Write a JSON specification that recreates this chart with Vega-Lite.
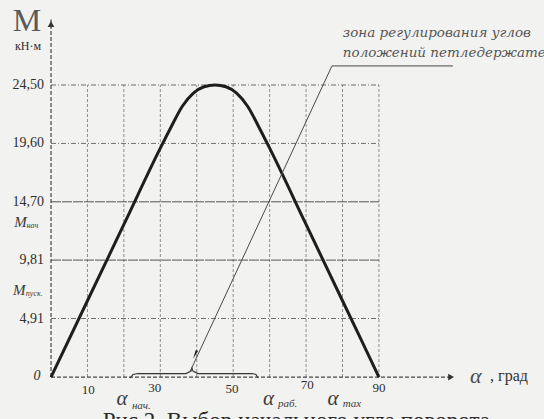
{
  "$schema": "https://vega.github.io/schema/vega-lite/v6.json",
  "width": 544,
  "height": 419,
  "autosize": "none",
  "padding": 0,
  "background": "#f2f2f0",
  "config": {"view": {"stroke": null}},
  "datasets": {
    "curve": [
      {"x": 0, "y": 0}, {"x": 10, "y": 6.4}, {"x": 20, "y": 12.8}, {"x": 30, "y": 19.2},
      {"x": 33, "y": 21.0}, {"x": 36, "y": 22.7}, {"x": 39, "y": 23.8}, {"x": 42, "y": 24.35},
      {"x": 45, "y": 24.5}, {"x": 48, "y": 24.35}, {"x": 51, "y": 23.8}, {"x": 54, "y": 22.7},
      {"x": 57, "y": 21.0}, {"x": 60, "y": 19.2}, {"x": 70, "y": 12.8}, {"x": 80, "y": 6.4},
      {"x": 90, "y": 0}
    ],
    "vgrid": [
      {"x": 10, "y": 0, "y2": 24.5}, {"x": 20, "y": 0, "y2": 24.5}, {"x": 30, "y": 0, "y2": 24.5},
      {"x": 40, "y": 0, "y2": 24.5}, {"x": 50, "y": 0, "y2": 24.5}, {"x": 60, "y": 0, "y2": 24.5},
      {"x": 70, "y": 0, "y2": 24.5}, {"x": 80, "y": 0, "y2": 24.5}, {"x": 90, "y": 0, "y2": 24.5}
    ],
    "hgridDash": [
      {"x": 0, "x2": 90, "y": 4.91}, {"x": 0, "x2": 90, "y": 19.6}, {"x": 0, "x2": 90, "y": 24.5}
    ],
    "hgridSolid": [
      {"x": 0, "x2": 90, "y": 9.81}, {"x": 0, "x2": 90, "y": 14.7}
    ],
    "axes": [
      {"x": 0, "y": 0, "x2": 0, "y2": 30.0},
      {"x": 0, "y": 0, "x2": 110, "y2": 0}
    ],
    "bracket": [
      {"x": 21.68, "y": -0.08}, {"x": 22.5, "y": 0.21}, {"x": 23.87, "y": 0.29},
      {"x": 37.05, "y": 0.29}, {"x": 38.42, "y": 0.5}, {"x": 38.69, "y": 0.76},
      {"x": 38.97, "y": 0.5}, {"x": 40.34, "y": 0.29}, {"x": 55.16, "y": 0.29},
      {"x": 56.26, "y": 0.21}, {"x": 56.81, "y": -0.08}
    ],
    "leader": [
      {"x": 38.1, "y": 0.42, "o": 1}, {"x": 77.1, "y": 26.1, "o": 2}, {"x": 110.3, "y": 26.1, "o": 3}
    ],
    "yArrow": [{"x": 0, "y": 29.6}],
    "xArrow": [{"x": 109.8, "y": 0}],
    "leaderArrow": [{"x": 39.7, "y": 2.0}],
    "yTicks": [
      {"x": -1.92, "y": 24.5, "t": "24,50"}, {"x": -1.92, "y": 19.6, "t": "19,60"},
      {"x": -1.92, "y": 14.7, "t": "14,70"}, {"x": -1.92, "y": 9.81, "t": "9,81"},
      {"x": -1.92, "y": 4.91, "t": "4,91"}
    ],
    "xTicks": [
      {"x": 10.2, "y": -1.09, "t": "10"}, {"x": 28.5, "y": -0.95, "t": "30"},
      {"x": 49.7, "y": -1.0, "t": "50"}, {"x": 70.3, "y": -0.7, "t": "70"},
      {"x": 90, "y": -0.95, "t": "90"}
    ],
    "zero": [{"x": -3.84, "y": 0.08, "t": "0"}],
    "bigM": [{"x": -6.6, "y": 29.9, "t": "M"}],
    "unit": [{"x": -6.3, "y": 27.8, "t": "кН·м"}],
    "mLabels": [
      {"x": -8.4, "y": 13.0, "t": "M"}, {"x": -8.7, "y": 7.3, "t": "M"}
    ],
    "mSubs": [
      {"x": -6.7, "y": 12.7, "t": "нач"}, {"x": -6.9, "y": 7.0, "t": "пуск."}
    ],
    "alphas": [
      {"x": 19.5, "y": -1.85, "t": "α"}, {"x": 59.7, "y": -1.85, "t": "α"}, {"x": 77.4, "y": -1.85, "t": "α"}
    ],
    "alphaSubs": [
      {"x": 22.2, "y": -2.4, "t": "нач."}, {"x": 62.3, "y": -2.25, "t": "раб."}, {"x": 80.1, "y": -2.25, "t": "max"}
    ],
    "zone": [
      {"x": 80.1, "y": 28.86, "t": "зона регулирования углов"},
      {"x": 80.1, "y": 27.19, "t": "положений петледержателя"}
    ],
    "axisAlpha": [{"x": 116.6, "y": 0.05, "t": "α"}],
    "axisUnit": [{"x": 120.5, "y": 0.05, "t": " ,  град"}],
    "caption": [{"x": 14.2, "y": -4.25, "t": "Рис.2. Выбор начального угла поворота"}]
  },
  "encoding": {
    "x": {"field": "x", "type": "quantitative", "scale": {"domain": [-14.0, 135.3], "nice": false, "zero": false}, "axis": null},
    "y": {"field": "y", "type": "quantitative", "scale": {"domain": [-3.52, 31.63], "nice": false, "zero": false}, "axis": null}
  },
  "layer": [
    {
      "data": {"name": "vgrid"},
      "mark": {"type": "rule", "stroke": "#8c8c8c", "strokeWidth": 1, "strokeDash": [3, 2]},
      "encoding": {"y2": {"field": "y2"}}
    },
    {
      "data": {"name": "hgridDash"},
      "mark": {"type": "rule", "stroke": "#6e6e6e", "strokeWidth": 1, "strokeDash": [5, 2, 1, 2]},
      "encoding": {"x2": {"field": "x2"}}
    },
    {
      "data": {"name": "hgridSolid"},
      "mark": {"type": "rule", "stroke": "#555555", "strokeWidth": 1, "strokeDash": [10, 1]},
      "encoding": {"x2": {"field": "x2"}}
    },
    {
      "data": {"name": "axes"},
      "mark": {"type": "rule", "stroke": "#444444", "strokeWidth": 1.2, "strokeDash": [4, 2]},
      "encoding": {"x2": {"field": "x2"}, "y2": {"field": "y2"}}
    },
    {
      "data": {"name": "curve"},
      "mark": {"type": "line", "stroke": "#1e1e1e", "strokeWidth": 3, "interpolate": "monotone"},
      "encoding": {}
    },
    {
      "data": {"name": "bracket"},
      "mark": {"type": "line", "stroke": "#333333", "strokeWidth": 1.1},
      "encoding": {}
    },
    {
      "data": {"name": "leader"},
      "mark": {"type": "line", "stroke": "#4a4a4a", "strokeWidth": 1},
      "encoding": {"order": {"field": "o"}}
    },
    {
      "data": {"name": "yArrow"},
      "mark": {"type": "point", "shape": "triangle-up", "filled": true, "color": "#333333", "size": 45, "opacity": 1}
    },
    {
      "data": {"name": "xArrow"},
      "mark": {"type": "point", "shape": "triangle-right", "filled": true, "color": "#333333", "size": 45, "opacity": 1}
    },
    {
      "data": {"name": "leaderArrow"},
      "mark": {"type": "point", "shape": "wedge", "filled": true, "color": "#222222", "size": 110, "angle": 204.8, "opacity": 1}
    },
    {
      "data": {"name": "yTicks"},
      "mark": {"type": "text", "font": "Liberation Serif", "fontSize": 14, "color": "#2e2e2e", "align": "right", "baseline": "middle"},
      "encoding": {"text": {"field": "t"}}
    },
    {
      "data": {"name": "xTicks"},
      "mark": {"type": "text", "font": "Liberation Serif", "fontSize": 13, "color": "#2e2e2e", "align": "center", "baseline": "middle"},
      "encoding": {"text": {"field": "t"}}
    },
    {
      "data": {"name": "zero"},
      "mark": {"type": "text", "font": "Liberation Serif", "fontStyle": "italic", "fontSize": 14, "color": "#2e2e2e", "align": "center", "baseline": "middle"},
      "encoding": {"text": {"field": "t"}}
    },
    {
      "data": {"name": "bigM"},
      "mark": {"type": "text", "font": "Liberation Serif", "fontSize": 32, "color": "#5a5a5a", "align": "center", "baseline": "middle"},
      "encoding": {"text": {"field": "t"}}
    },
    {
      "data": {"name": "unit"},
      "mark": {"type": "text", "font": "Liberation Serif", "fontSize": 12, "color": "#2e2e2e", "align": "center", "baseline": "middle"},
      "encoding": {"text": {"field": "t"}}
    },
    {
      "data": {"name": "mLabels"},
      "mark": {"type": "text", "font": "Liberation Serif", "fontStyle": "italic", "fontSize": 15, "color": "#3a3a3a", "align": "center", "baseline": "middle"},
      "encoding": {"text": {"field": "t"}}
    },
    {
      "data": {"name": "mSubs"},
      "mark": {"type": "text", "font": "Liberation Serif", "fontStyle": "italic", "fontSize": 8, "color": "#3a3a3a", "align": "left", "baseline": "middle"},
      "encoding": {"text": {"field": "t"}}
    },
    {
      "data": {"name": "alphas"},
      "mark": {"type": "text", "font": "Liberation Serif", "fontStyle": "italic", "fontSize": 21, "color": "#3a3a3a", "align": "center", "baseline": "middle"},
      "encoding": {"text": {"field": "t"}}
    },
    {
      "data": {"name": "alphaSubs"},
      "mark": {"type": "text", "font": "Liberation Serif", "fontStyle": "italic", "fontSize": 11, "color": "#3a3a3a", "align": "left", "baseline": "middle"},
      "encoding": {"text": {"field": "t"}}
    },
    {
      "data": {"name": "zone"},
      "mark": {"type": "text", "font": "DejaVu Serif", "fontStyle": "italic", "fontSize": 13.5, "color": "#555555", "align": "left", "baseline": "middle"},
      "encoding": {"text": {"field": "t"}}
    },
    {
      "data": {"name": "axisAlpha"},
      "mark": {"type": "text", "font": "Liberation Serif", "fontStyle": "italic", "fontSize": 22, "color": "#4a4a4a", "align": "center", "baseline": "middle"},
      "encoding": {"text": {"field": "t"}}
    },
    {
      "data": {"name": "axisUnit"},
      "mark": {"type": "text", "font": "Liberation Serif", "fontSize": 16, "color": "#333333", "align": "left", "baseline": "middle"},
      "encoding": {"text": {"field": "t"}}
    },
    {
      "data": {"name": "caption"},
      "mark": {"type": "text", "font": "Liberation Serif", "fontSize": 23, "color": "#2a2a2a", "align": "left", "baseline": "alphabetic"},
      "encoding": {"text": {"field": "t"}}
    }
  ]
}
